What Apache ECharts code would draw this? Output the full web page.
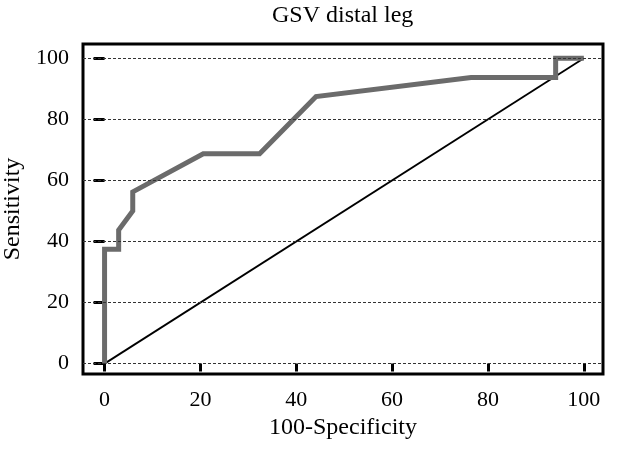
<!DOCTYPE html>
<html>
<head>
<meta charset="utf-8">
<script src="https://cdn.jsdelivr.net/npm/echarts@6/dist/echarts.min.js"></script>
<style>
  html, body { margin: 0; padding: 0; background: #fff; }
  #chart { width: 618px; height: 454px; }
</style>
</head>
<body>
<div id="chart"></div>
<script>
// ROC curve (100-specificity vs sensitivity)
const rocX = [0, 0, 2.94, 2.94, 5.88, 5.88, 20.59, 32.35, 44.12, 76.47, 94.12, 94.12, 100]
const rocY = [0, 37.5, 37.5, 43.75, 50, 56.25, 68.75, 68.75, 87.5, 93.75, 93.75, 100, 100]
// reference diagonal
const refX = [0, 100]
const refY = [0, 100]
// tick labels / dashed gridlines
const tickValues = [0, 20, 40, 60, 80, 100]

const font = 'Liberation Serif, Times New Roman, serif'
const chart = echarts.init(document.getElementById('chart'))

const option = {
  animation: false,
  title: {
    text: 'GSV distal leg',
    left: 272,
    top: 4,
    padding: 0,
    textStyle: { fontFamily: font, fontSize: 24, fontWeight: 'normal', color: '#000' },
  },
  grid: {
    left: 83,
    top: 44,
    width: 520,
    height: 330,
    outerBoundsMode: 'none',
    show: true,
    borderColor: '#000',
    borderWidth: 3,
    backgroundColor: '#fff',
  },
  xAxis: {
    type: 'value',
    min: -4.5,
    max: 104,
    name: '100-Specificity',
    nameLocation: 'middle',
    nameGap: 42,
    nameTextStyle: { fontFamily: font, fontSize: 24, color: '#000' },
    axisLine: { show: false },
    splitLine: { show: false },
    axisTick: {
      show: true,
      customValues: tickValues,
      length: 8,
      lineStyle: { color: '#000', width: 3 },
    },
    axisLabel: {
      customValues: tickValues,
      margin: 15,
      fontFamily: font,
      fontSize: 22,
      color: '#000',
    },
  },
  yAxis: {
    type: 'value',
    min: -3.4,
    max: 104.7,
    name: 'Sensitivity',
    nameLocation: 'middle',
    nameGap: 40,
    nameTextStyle: { fontFamily: font, fontSize: 24, color: '#000' },
    axisLine: { show: false },
    splitLine: { show: false },
    axisTick: {
      show: true,
      customValues: tickValues,
      length: 11,
      lineStyle: { color: '#000', width: 3 },
    },
    axisLabel: {
      customValues: tickValues,
      margin: 14,
      fontFamily: font,
      fontSize: 22,
      color: '#000',
    },
  },
  series: [
    {
      type: 'line',
      data: refX.map((x, i) => [x, refY[i]]),
      showSymbol: false,
      silent: true,
      lineStyle: { color: '#000', width: 1.8 },
      z: 2,
      markLine: {
        silent: true,
        symbol: 'none',
        label: { show: false },
        lineStyle: { color: '#333', width: 1, type: [3, 2] },
        data: tickValues.map(v => ({ yAxis: v })),
      },
    },
    {
      type: 'line',
      data: rocX.map((x, i) => [x, rocY[i]]),
      showSymbol: false,
      silent: true,
      lineStyle: { color: '#6b6b6b', width: 5, join: 'miter' },
      z: 3,
    },
  ],
}

chart.setOption(option)
</script>
</body>
</html>
